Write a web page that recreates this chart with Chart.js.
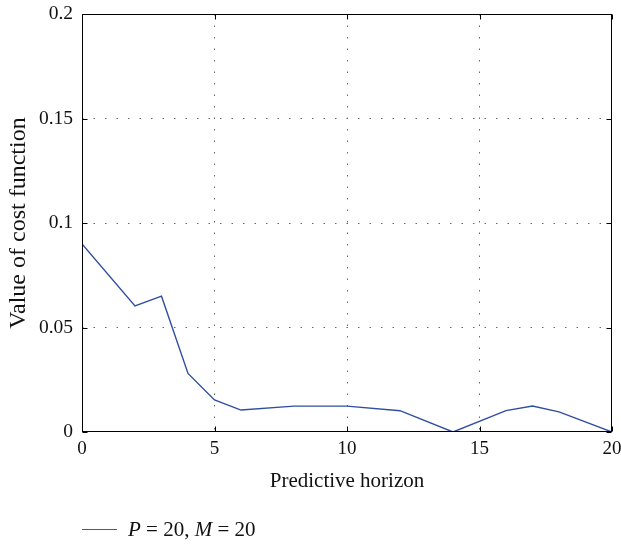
<!DOCTYPE html>
<html>
<head>
<meta charset="utf-8">
<script src="https://cdn.jsdelivr.net/npm/chart.js@4/dist/chart.umd.min.js"></script>
<style>
html,body{margin:0;padding:0;background:#fff;}
#wrap{position:relative;width:621px;height:544px;}
#legend{position:absolute;left:82px;top:517px;height:24px;line-height:24px;font-family:"Liberation Serif","DejaVu Serif",serif;font-size:21px;color:#111;display:flex;align-items:center;white-space:nowrap;}
#legend .ln{display:inline-block;width:35px;height:0;border-top:1.5px solid #3d5aa6;margin-right:11px;}
</style>
</head>
<body>
<div id="wrap">
<canvas id="c" width="621" height="544"></canvas>
<div id="legend"><span class="ln"></span><span><i>P</i> = 20, <i>M</i> = 20</span></div>
</div>
<script>
const xValues = [0, 2, 3, 4, 5, 6, 8, 10, 12, 14, 16, 17, 18, 20];
const yValues = [0.09, 0.0603, 0.065, 0.028, 0.0153, 0.0105, 0.0124, 0.0124, 0.0102, 0, 0.0102, 0.0124, 0.0096, 0];
const seriesLabel = 'P = 20, M = 20';
const xTitle = 'Predictive horizon';
const yTitle = 'Value of cost function';

const points = xValues.map((x, i) => ({x: x, y: yValues[i]}));
const family = '"Liberation Serif","DejaVu Serif",serif';

const boxPlugin = {
  id: 'box',
  afterDraw(chart) {
    const {ctx, chartArea: a, scales} = chart;
    const L = Math.round(a.left) + 0.5, R = Math.round(a.right) - 0.5;
    const T = Math.round(a.top) + 0.5, B = Math.round(a.bottom) - 0.5;
    ctx.save();
    ctx.strokeStyle = '#000';
    ctx.lineWidth = 1;
    ctx.strokeRect(L, T, R - L, B - T);
    ctx.beginPath();
    scales.x.ticks.forEach(t => {
      const px = Math.round(scales.x.getPixelForValue(t.value)) + 0.5;
      ctx.moveTo(px, B); ctx.lineTo(px, B - 5);
      ctx.moveTo(px, T); ctx.lineTo(px, T + 5);
    });
    scales.y.ticks.forEach(t => {
      const py = Math.round(scales.y.getPixelForValue(t.value)) + 0.5;
      ctx.moveTo(L, py); ctx.lineTo(L + 5, py);
      ctx.moveTo(R, py); ctx.lineTo(R - 5, py);
    });
    ctx.stroke();
    ctx.restore();
  }
};

const gridColor = (ctx) => {
  const s = ctx.scale;
  const v = ctx.tick ? ctx.tick.value : null;
  if (v === null || Math.abs(v - s.min) < 1e-9 || Math.abs(v - s.max) < 1e-9) return 'rgba(0,0,0,0)';
  return '#666';
};

new Chart(document.getElementById('c'), {
  type: 'line',
  data: {
    datasets: [{
      label: seriesLabel,
      data: points,
      borderColor: '#2f4f9e',
      borderWidth: 1.4,
      pointRadius: 0,
      fill: false,
      tension: 0
    }]
  },
  options: {
    responsive: false,
    animation: false,
    layout: {padding: {left: 0, right: 9, top: 14, bottom: 50}},
    plugins: {legend: {display: false}, tooltip: {enabled: false}},
    scales: {
      x: {
        type: 'linear', min: 0, max: 20,
        ticks: {stepSize: 5, color: '#111', font: {family: family, size: 19}, padding: 5.5, maxRotation: 0},
        grid: {color: gridColor, drawTicks: false, lineWidth: 1},
        border: {display: false, dash: [1.5, 10]},
        title: {display: true, text: xTitle, color: '#111', font: {family: family, size: 21}, padding: {top: 6, bottom: 0}},
        afterFit(s) { s.height = 62; s.paddingRight = 0; s.paddingLeft = 0; }
      },
      y: {
        min: 0, max: 0.2,
        ticks: {stepSize: 0.05, color: '#111', font: {family: family, size: 19.5}, padding: 9,
          callback: v => String(Number(v.toFixed(2)))},
        grid: {color: gridColor, drawTicks: false, lineWidth: 1},
        border: {display: false, dash: [1.5, 10]},
        title: {display: true, text: yTitle, color: '#111', font: {family: family, size: 24}, padding: {top: 4, bottom: 2}},
        afterFit(s) { s.width = 82; s.paddingTop = 0; s.paddingBottom = 0; }
      }
    }
  },
  plugins: [boxPlugin]
});
</script>
</body>
</html>
